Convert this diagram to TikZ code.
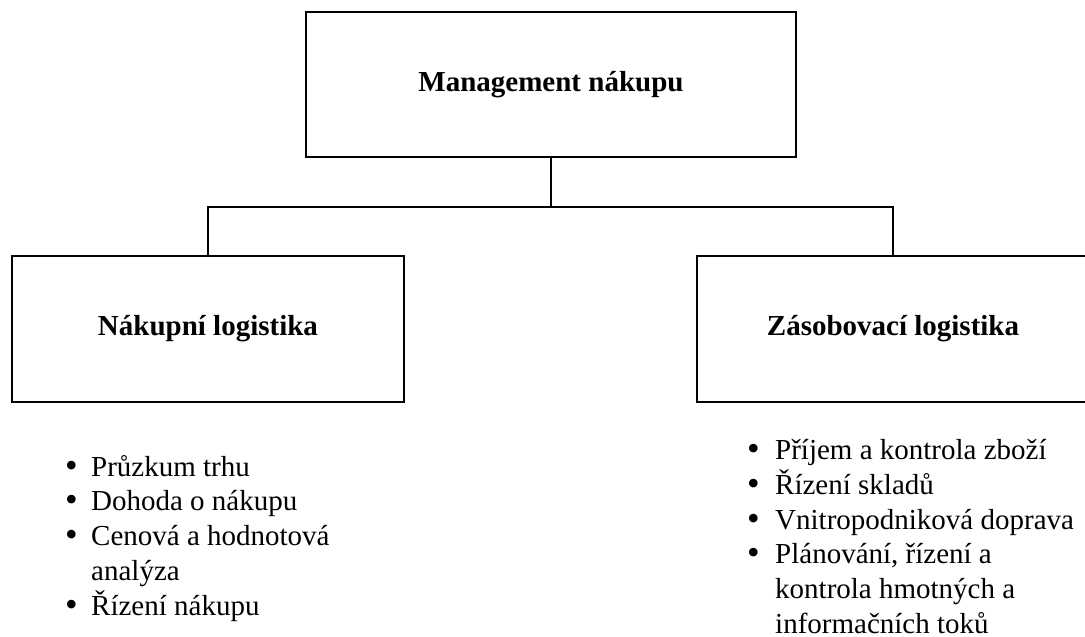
\documentclass[tikz,border=0pt]{standalone}
\usepackage{fontspec}
\setmainfont{Liberation Serif}
\newcommand{\bigdot}{\smash{\fontsize{36}{35}\selectfont\raisebox{-1pt}{\textbullet}}}
\begin{document}
\begin{tikzpicture}[x=1pt,y=-1pt,
  box/.style={draw=black,line width=1.8pt,inner sep=0pt,
    minimum width=392pt,minimum height=146pt,
    font=\fontsize{29}{34}\selectfont\bfseries},
  link/.style={draw=black,line width=1.8pt},
  items/.style={anchor=base west,inner sep=0pt,
    font=\fontsize{29}{34.7}\selectfont}]
\clip (0,0) rectangle (1085,637);
\fill[white] (0,0) rectangle (1085,637);
% boxes
\node[box,minimum width=490pt,minimum height=145pt] (top) at (551,84.5) {Management nákupu};
\node[box] (left) at (208,329) {Nákupní logistika};
\node[box] (right) at (893,329) {Zásobovací logistika};
% tree connectors
\coordinate (bus) at (551,207);
\draw[link] (top.south) -- (bus);
\draw[link] (left.north) |- (bus) -| (right.north);
% bullet lists
\node[items] (leftlist) at (65,476) {%
  \begin{tabular}[t]{@{}p{26pt}@{}l@{}}
  \bigdot & Průzkum trhu\\
  \bigdot & Dohoda o nákupu\\
  \bigdot & Cenová a hodnotová\\
          & analýza\\
  \bigdot & Řízení nákupu
  \end{tabular}};
\node[items] (rightlist) at (747,459) {%
  \begin{tabular}[t]{@{}p{28pt}@{}l@{}}
  \bigdot & Příjem a kontrola zboží\\
  \bigdot & Řízení skladů\\
  \bigdot & Vnitropodniková doprava\\
  \bigdot & Plánování, řízení a\\
          & kontrola hmotných a\\
          & informačních toků
  \end{tabular}};
\end{tikzpicture}
\end{document}
